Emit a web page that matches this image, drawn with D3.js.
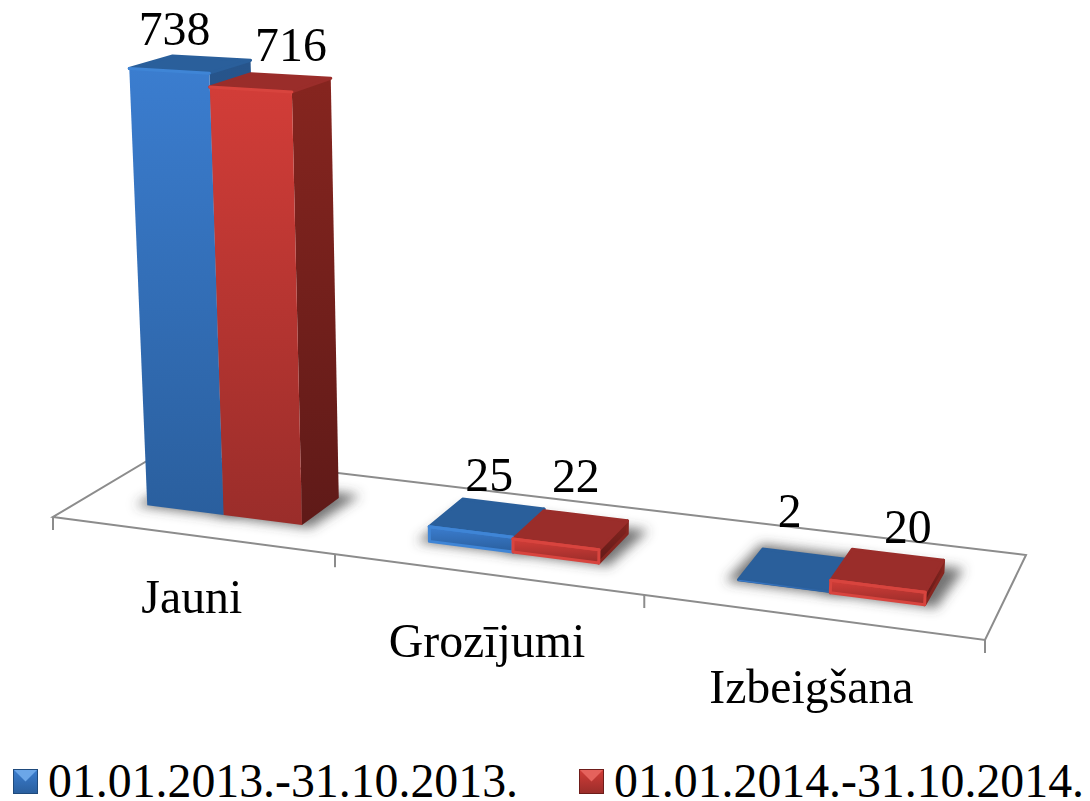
<!DOCTYPE html>
<html>
<head>
<meta charset="utf-8">
<style>
    body { margin: 0; background: #fff; }
    svg { display: block; }
    text { font-family: "Liberation Serif", serif; fill: #000; }
</style>
<script src="https://cdn.jsdelivr.net/npm/d3@7"></script>
</head>
<body>
<svg width="1090" height="801"></svg>
<script>
const categories = ['Jauni', 'Grozījumi', 'Izbeigšana'];
const seriesNames = ['01.01.2013.-31.10.2013.', '01.01.2014.-31.10.2014.'];
const values2013 = [738, 25, 2];
const values2014 = [716, 22, 20];

const colors = [
    { front0: '#3b7dcf', front1: '#2a5f9e', top: '#2a5f9b', side0: '#27558c', side1: '#1f4674', edge: '#3f85d6', tri: '#6ba6e8', rim: '#1f4a7c' },
    { front0: '#d23d38', front1: '#9a2d2a', top: '#9a2d2a', side0: '#86251f', side1: '#5f1a18', edge: '#d8443e', tri: '#e5625c', rim: '#6e1d1a' }
];

// floor corners on screen: front left, front right, back right, back left
const corners = [[53, 517], [985, 640], [1026, 555], [162, 452]];
const det = (p, q) => p[0] * q[1] - p[1] * q[0];
const dx1 = [corners[1][0] - corners[2][0], corners[1][1] - corners[2][1]];
const dx2 = [corners[3][0] - corners[2][0], corners[3][1] - corners[2][1]];
const sum = [corners[0][0] - corners[1][0] + corners[2][0] - corners[3][0],
             corners[0][1] - corners[1][1] + corners[2][1] - corners[3][1]];
const g = det(sum, dx2) / det(dx1, dx2);
const h = det(dx1, sum) / det(dx1, dx2);

// vertical vanishing point, bars lean in towards it
const vanish = [505, 9200];
const k = -0.0485;

function project(u, w, t) {
    const den = g * u + h * w + 1 + k * t;
    const px = (corners[1][0] - corners[0][0] + g * corners[1][0]) * u
        + (corners[3][0] - corners[0][0] + h * corners[3][0]) * w
        + corners[0][0] + k * vanish[0] * t;
    const py = (corners[1][1] - corners[0][1] + g * corners[1][1]) * u
        + (corners[3][1] - corners[0][1] + h * corners[3][1]) * w
        + corners[0][1] + k * vanish[1] * t;
    return [px / den, py / den];
}

const xCat = d3.scaleBand().domain(categories).range([0, 1]);
const xSeries = d3.scaleBand().domain([0, 1]).range([0.0765, 0.263]);
const zBar = d3.scaleLinear().domain([0, 1]).range([0.285, 0.672]);
const tBar = d3.scaleLinear().domain([0, 738]).range([0, 1]);

const svg = d3.select('svg');
const defs = svg.append('defs');

defs.append('filter').attr('id', 'blur')
    .attr('x', '-30%').attr('y', '-60%').attr('width', '160%').attr('height', '220%')
    .append('feGaussianBlur').attr('stdDeviation', 6);

colors.forEach(function (c, i) {
    [['front', c.front0, c.front1], ['side', c.side0, c.side1]].forEach(function (d) {
        const grad = defs.append('linearGradient').attr('id', d[0] + i)
            .attr('x1', 0).attr('y1', 0).attr('x2', 0).attr('y2', 1);
        grad.append('stop').attr('offset', '0%').attr('stop-color', d[1]);
        grad.append('stop').attr('offset', '100%').attr('stop-color', d[2]);
    });
});

const poly = d3.line();

// floor
svg.append('path')
    .attr('d', poly(corners) + 'Z')
    .attr('fill', '#fff')
    .attr('stroke', '#8c8c8c')
    .attr('stroke-width', 2);

// ticks under the front edge
svg.selectAll('.tick')
    .data(d3.range(categories.length + 1))
    .enter()
    .append('line')
    .attr('class', 'tick')
    .attr('x1', d => project(d * xCat.step(), 0, 0)[0])
    .attr('y1', d => project(d * xCat.step(), 0, 0)[1])
    .attr('x2', d => project(d * xCat.step(), 0, 0)[0])
    .attr('y2', d => project(d * xCat.step(), 0, 0)[1] + 13)
    .attr('stroke', '#8c8c8c')
    .attr('stroke-width', 2);

const series = [values2013, values2014];
const bars = [];
categories.forEach(function (cat, i) {
    series.forEach(function (vals, s) {
        bars.push({
            cat: cat,
            s: s,
            value: vals[i],
            u0: xCat(cat) + xSeries(s),
            u1: xCat(cat) + xSeries(s) + xSeries.bandwidth()
        });
    });
});

// shadows first so no bar gets covered
const shadowGroup = svg.append('g').attr('filter', 'url(#blur)');
bars.forEach(function (d) {
    shadowGroup.append('path')
        .attr('d', poly([
            project(d.u0 - 0.012, zBar(0) - 0.02, 0),
            project(d.u1 + 0.012, zBar(0) - 0.02, 0),
            project(d.u1 + 0.018, zBar(1) + 0.07, 0),
            project(d.u0 - 0.006, zBar(1) + 0.07, 0)
        ]) + 'Z')
        .attr('fill', '#444')
        .attr('opacity', 0.75);
});

bars.forEach(function (d) {
    const t = tBar(d.value);
    const z0 = zBar(0), z1 = zBar(1);
    const faces = [
        { pts: [project(d.u1, z0, 0), project(d.u1, z1, 0), project(d.u1, z1, t), project(d.u1, z0, t)], fill: 'url(#side' + d.s + ')', line: colors[d.s].side0 },
        { pts: [project(d.u0, z0, t), project(d.u1, z0, t), project(d.u1, z1, t), project(d.u0, z1, t)], fill: colors[d.s].top, line: colors[d.s].top },
        { pts: [project(d.u0, z0, 0), project(d.u1, z0, 0), project(d.u1, z0, t), project(d.u0, z0, t)], fill: 'url(#front' + d.s + ')', line: d.value > 5 ? colors[d.s].edge : 'none' }
    ];
    // round the corners a bit with a round-join stroke, tall bars get it on the top only
    svg.append('g')
        .selectAll('path')
        .data(faces)
        .enter()
        .append('path')
        .attr('d', f => poly(f.pts) + 'Z')
        .attr('fill', f => f.fill)
        .attr('stroke', f => (d.value > 100 && f.fill !== colors[d.s].top) ? 'none' : f.line)
        .attr('stroke-width', 3)
        .attr('stroke-linejoin', 'round');
    // light bevel along the top front edge
    if (d.value > 5) {
        svg.append('path')
            .attr('d', poly([project(d.u0, z0, t), project(d.u1, z0, t)]))
            .attr('stroke', colors[d.s].edge)
            .attr('stroke-width', 3)
            .attr('stroke-linecap', 'round')
            .attr('fill', 'none');
    }
});

// value labels, hand placed off the bar top like the original
const labelNudge = [[-16, -19], [20, -22], [2, -27], [5, -38], [-6, -43], [20, -27]];
svg.selectAll('.value')
    .data(bars)
    .enter()
    .append('text')
    .attr('class', 'value')
    .attr('text-anchor', 'middle')
    .attr('font-size', 47.8)
    .each(function (d, i) {
        const p = project((d.u0 + d.u1) / 2, zBar(0.5), tBar(d.value));
        d3.select(this)
            .attr('x', p[0] + labelNudge[i][0])
            .attr('y', p[1] + labelNudge[i][1])
            .text(d.value);
    });

// category labels
const labelDrop = [78, 83, 86];
svg.selectAll('.cat')
    .data(categories)
    .enter()
    .append('text')
    .attr('class', 'cat')
    .attr('text-anchor', 'middle')
    .attr('font-size', 47.8)
    .each(function (d, i) {
        const p = project(xCat(d) + xCat.bandwidth() / 2, 0, 0);
        d3.select(this)
            .attr('x', p[0] + 1)
            .attr('y', p[1] + labelDrop[i])
            .text(d);
    });

// legend
const legendX = [13, 579];
const legend = svg.selectAll('.legend')
    .data(seriesNames)
    .enter()
    .append('g')
    .attr('class', 'legend')
    .attr('transform', (d, i) => 'translate(' + legendX[i] + ',769)');

const size = 25;
legend.each(function (d, i) {
    const g0 = d3.select(this);
    g0.append('rect')
        .attr('x', 0.5).attr('y', 0.5)
        .attr('width', size - 1).attr('height', size - 1)
        .attr('fill', 'url(#front' + i + ')')
        .attr('stroke', colors[i].rim);
    g0.append('path')
        .attr('d', poly([[1, 1], [size - 1, 1], [size / 2, size / 2]]) + 'Z')
        .attr('fill', colors[i].tri);
    g0.append('text')
        .attr('x', size + 10)
        .attr('y', 28)
        .attr('font-size', 47.8)
        .text(d);
});
</script>
</body>
</html>
